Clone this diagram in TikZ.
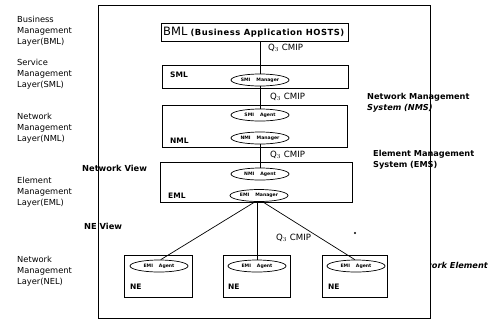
\documentclass[tikz,border=0pt]{standalone}
\usepackage{fontspec}
\setmainfont{DejaVu Sans}
\usetikzlibrary{shapes.geometric}
\begin{document}
\begin{tikzpicture}[x=1pt,y=-1pt,
  frameline/.style={draw, line width=0.7pt},
  layerbox/.style={draw, line width=0.7pt, inner sep=0pt, anchor=north west},
  entity/.style={draw, ellipse, line width=0.7pt, minimum width=58pt, minimum height=12pt,
                 inner sep=0pt, font=\fontsize{4.6}{5}\selectfont\bfseries},
  sidelabel/.style={anchor=west, align=left, inner sep=0pt, font=\fontsize{8.3}{11}\selectfont},
  viewlabel/.style={anchor=west, inner sep=0pt, font=\fontsize{8.3}{10}\selectfont\bfseries},
  syslabel/.style={anchor=west, align=left, inner sep=0pt, font=\fontsize{8.2}{11}\selectfont\bfseries},
  boxlabel/.style={anchor=west, inner sep=0pt, font=\fontsize{7.5}{8}\selectfont\bfseries},
  qlabel/.style={anchor=west, inner sep=0pt, font=\fontsize{8.6}{9}\selectfont},
  link/.style={draw, line width=0.7pt}]
\useasboundingbox (0,0) rectangle (489,322);

% outer frame of the management system
\draw[frameline] (98,5) rectangle (430,318);

% layer labels on the left
\node[sidelabel] (lbml) at (17,31) {Business\\Management\\Layer(BML)};
\node[sidelabel] (lsml) at (17,74) {Service\\Management\\Layer(SML)};
\node[sidelabel] (lnml) at (17,128) {Network\\Management\\Layer(NML)};
\node[sidelabel] (leml) at (17,192) {Element\\Management\\Layer(EML)};
\node[sidelabel] (lnel) at (17,271) {Network\\Management\\Layer(NEL)};

% views
\node[viewlabel] (nview) at (82,168) {Network View};
\node[viewlabel] (neview) at (84,226) {NE View};

% systems on the right
\node[syslabel] (nms) at (367,103) {Network Management\\\textit{System (NMS)}};
\node[syslabel] (ems) at (373,160) {Element Management\\System (EMS)};
\begin{scope}
  \clip (430.5,240) rectangle (489,290);
  \node[anchor=east, inner sep=0pt, font=\fontsize{8.2}{10}\selectfont\bfseries\itshape] (nel) at (488,265) {Network Element};
\end{scope}

% layer boxes
\node[layerbox, minimum width=187pt, minimum height=18pt] (bml) at (161,23) {};
\node[anchor=west, inner sep=0pt] (bmltxt) at (163,32.5)
  {{\fontsize{11.5}{12}\selectfont BML} {\fontsize{8.4}{9}\selectfont\bfseries\addfontfeature{LetterSpace=6}(Business Application HOSTS)}};

\node[layerbox, minimum width=186pt, minimum height=23pt] (sml) at (162,65) {};
\node[layerbox, minimum width=185pt, minimum height=42pt] (nml) at (162,105) {};
\node[layerbox, minimum width=192pt, minimum height=40pt] (eml) at (160,162) {};

\node[boxlabel] (smltxt) at (170,75) {SML};
\node[boxlabel] (nmltxt) at (170,141) {NML};
\node[boxlabel] (emltxt) at (168,196) {EML};

% managers and agents
\node[entity] (smlM) at (260,80) {SMI\hspace{6pt}Manager};
\node[entity] (nmlA) at (260,115) {SMI\hspace{6pt}Agent};
\node[entity] (nmlM) at (260,138) {NMI\hspace{6pt}Manager};
\node[entity] (emlA) at (260,174) {NMI\hspace{6pt}Agent};
\node[entity] (emlM) at (259,195.5) {EMI\hspace{6pt}Manager};

% network elements
\node[layerbox, minimum width=68pt, minimum height=42pt] (ne1) at (124,255) {};
\node[layerbox, minimum width=67pt, minimum height=42pt] (ne2) at (223,255) {};
\node[layerbox, minimum width=65pt, minimum height=42pt] (ne3) at (322,255) {};
\node[entity] (ne1A) at (159,266) {EMI\hspace{6pt}Agent};
\node[entity] (ne2A) at (257,266) {EMI\hspace{6pt}Agent};
\node[entity] (ne3A) at (356,266) {EMI\hspace{6pt}Agent};
\node[boxlabel] (ne1txt) at (130,287) {NE};
\node[boxlabel] (ne2txt) at (228,287) {NE};
\node[boxlabel] (ne3txt) at (328,287) {NE};

% Q3 interfaces
\draw[link] (bml.south -| smlM.north) -- (smlM.north);
\draw[link] (smlM.south) -- (nmlA.north);
\draw[link] (nmlM.south) -- (emlA.north);
\draw[link] (ne2A.north |- emlM.south) -- (ne2A.north);
\draw[link] (emlM.238) -- (ne1A.75);
\draw[link] (emlM.300) -- (ne3A.100);

\node[qlabel] (q1) at (268,48) {Q$_3$ CMIP};
\node[qlabel] (q2) at (270,97) {Q$_3$ CMIP};
\node[qlabel] (q3) at (270,155) {Q$_3$ CMIP};
\node[qlabel] (q4) at (276,238) {Q$_3$ CMIP};

\fill (355,233) circle (1.1pt);
\end{tikzpicture}
\end{document}
